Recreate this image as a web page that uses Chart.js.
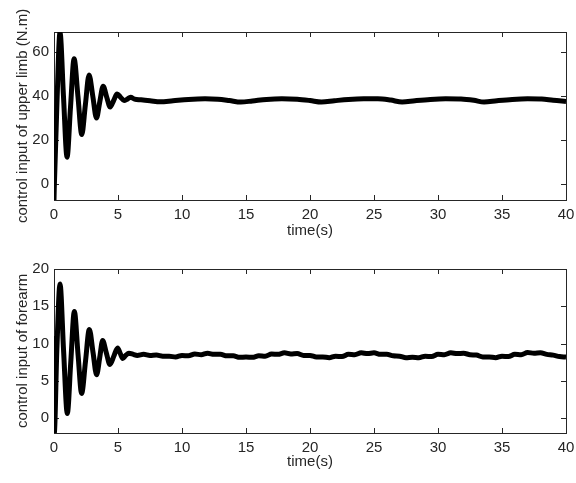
<!DOCTYPE html>
<html>
<head>
<meta charset="utf-8">
<script src="https://cdn.jsdelivr.net/npm/chart.js@4"></script>
<style>
  body { margin: 0; background: #fff; }
  canvas { position: absolute; left: 0; }
  #upperChart { top: 0; }
  #foreChart { top: 240px; }
</style>
</head>
<body>
<canvas id="upperChart" width="576" height="240"></canvas>
<canvas id="foreChart" width="576" height="243"></canvas>
<script>
// tick labels
const timeTicks = [0, 5, 10, 15, 20, 25, 30, 35, 40];
const upperTicks = [0, 20, 40, 60];
const foreTicks = [0, 5, 10, 15, 20];

// upper limb control input (N.m)
const timeUpper = [0, 0.02, 0.22, 0.47, 0.74, 1.02, 1.29, 1.57, 1.87, 2.17,
  2.45, 2.74, 3.03, 3.32, 3.58, 3.84, 4.12, 4.39, 4.66, 4.93,
  5.2, 5.47, 5.72, 5.98, 6.3, 6.8, 7.5, 8.3, 9.3, 10.5,
  11.8, 12.8, 13.7, 14.6, 15.5, 16.6, 17.8, 19.0, 20.0, 20.9,
  21.9, 23.0, 24.2, 25.3, 26.3, 27.2, 28.2, 29.4, 30.6, 31.8,
  32.8, 33.6, 34.6, 35.8, 37.0, 38.1, 39.0, 40];
const upperLimb = [-7.3, -2, 35, 69, 40, 12.2, 35, 57, 40, 22.5,
  36, 49.6, 40, 30, 37.5, 44.5, 39.5, 35, 38, 41,
  39.5, 38, 38.6, 39.5, 38.6, 38.3, 37.9, 37.4, 37.9, 38.5,
  38.8, 38.6, 38.0, 37.3, 37.8, 38.5, 38.8, 38.6, 38.0, 37.3,
  37.9, 38.5, 38.8, 38.8, 38.2, 37.3, 37.9, 38.5, 38.8, 38.7,
  38.1, 37.3, 37.9, 38.5, 38.8, 38.7, 38.1, 37.6];

// forearm control input
const timeFore = [0, 0.02, 0.22, 0.47, 0.75, 1.04, 1.31, 1.59, 1.88, 2.16,
  2.46, 2.76, 3.05, 3.33, 3.57, 3.8, 4.08, 4.37, 4.67, 4.97,
  5.17, 5.37, 5.6, 5.85, 6.2, 6.5, 7.0, 7.5, 8.0, 8.5,
  9.0, 9.5, 10.0, 10.5, 11.0, 11.5, 12.0, 12.5, 13.0, 13.5,
  14.0, 14.5, 15.0, 15.5, 16.0, 16.5, 17.0, 17.5, 18.0, 18.5,
  19.0, 19.5, 20.0, 20.5, 21.0, 21.5, 22.0, 22.5, 23.0, 23.5,
  24.0, 24.5, 25.0, 25.5, 26.0, 26.5, 27.0, 27.5, 28.0, 28.5,
  29.0, 29.5, 30.0, 30.5, 31.0, 31.5, 32.0, 32.5, 33.0, 33.5,
  34.0, 34.5, 35.0, 35.5, 36.0, 36.5, 37.0, 37.5, 38.0, 38.5,
  39.0, 39.5, 40.0];
const forearm = [11, -2, 9, 18, 9, 0.6, 7.5, 14.3, 8.5, 3.3,
  7.6, 11.9, 8.8, 5.8, 8.1, 10.4, 8.8, 7.2, 8.3, 9.4,
  8.7, 8.0, 8.4, 8.7, 8.55, 8.4, 8.55, 8.4, 8.45, 8.3,
  8.3, 8.2, 8.4, 8.35, 8.6, 8.5, 8.7, 8.55, 8.55, 8.35,
  8.35, 8.15, 8.2, 8.15, 8.35, 8.3, 8.6, 8.55, 8.75, 8.6,
  8.65, 8.4, 8.4, 8.2, 8.2, 8.1, 8.3, 8.25, 8.55, 8.5,
  8.75, 8.65, 8.75, 8.55, 8.55, 8.35, 8.3, 8.1, 8.15, 8.1,
  8.3, 8.25, 8.55, 8.5, 8.75, 8.65, 8.7, 8.5, 8.45, 8.2,
  8.2, 8.1, 8.3, 8.25, 8.55, 8.5, 8.8, 8.7, 8.75, 8.55,
  8.45, 8.25, 8.2];

Chart.defaults.font.family = '"Liberation Sans", Arial, sans-serif';
Chart.defaults.font.size = 15;
Chart.defaults.color = '#262626';

// axes box with inward ticks, MATLAB style
const boxTicks = {
  id: 'boxTicks',
  beforeDatasetsDraw(chart) {
    const { ctx, chartArea: a, scales: { x, y } } = chart;
    ctx.save();
    ctx.strokeStyle = '#262626';
    ctx.lineWidth = 1;
    ctx.strokeRect(Math.round(a.left) + 0.5, Math.round(a.top) + 0.5,
      Math.round(a.right - a.left), Math.round(a.bottom - a.top));
    ctx.beginPath();
    x.ticks.forEach(t => {
      const px = Math.round(x.getPixelForValue(t.value)) + 0.5;
      ctx.moveTo(px, a.bottom); ctx.lineTo(px, a.bottom - 5);
      ctx.moveTo(px, a.top); ctx.lineTo(px, a.top + 5);
    });
    y.ticks.forEach(t => {
      const py = Math.round(y.getPixelForValue(t.value)) + 0.5;
      ctx.moveTo(a.left, py); ctx.lineTo(a.left + 5, py);
      ctx.moveTo(a.right, py); ctx.lineTo(a.right - 5, py);
    });
    ctx.stroke();
    ctx.restore();
  }
};

function makeChart(id, times, values, yMin, yMax, yTicks, yTitle, padTop, xHeight, xTitlePad) {
  const ctx = document.getElementById(id).getContext('2d');
  return new Chart(ctx, {
    type: 'line',
    data: {
      datasets: [{
        data: times.map((t, i) => ({ x: t, y: values[i] })),
        borderColor: '#000',
        borderWidth: 5,
        pointRadius: 0,
        fill: false,
        cubicInterpolationMode: 'monotone'
      }]
    },
    options: {
      responsive: false,
      animation: false,
      layout: { padding: { top: padTop, right: 10, left: 0, bottom: 0 } },
      plugins: { legend: { display: false }, tooltip: { enabled: false } },
      scales: {
        x: {
          type: 'linear',
          min: 0,
          max: 40,
          afterBuildTicks: s => { s.ticks = timeTicks.map(v => ({ value: v })); },
          afterFit: s => { s.height = xHeight; s.paddingLeft = 0; s.paddingRight = 0; },
          grid: { display: false, drawTicks: false },
          border: { display: false },
          ticks: { padding: 6, maxRotation: 0 },
          title: { display: true, text: 'time(s)', padding: { top: 0, bottom: xTitlePad } }
        },
        y: {
          type: 'linear',
          min: yMin,
          max: yMax,
          afterBuildTicks: s => { s.ticks = yTicks.map(v => ({ value: v })); },
          afterFit: s => { s.width = 54; s.paddingTop = 0; s.paddingBottom = 0; },
          grid: { display: false, drawTicks: false },
          border: { display: false },
          ticks: { padding: 5 },
          title: { display: true, text: yTitle, padding: { top: 14, bottom: 0 } }
        }
      }
    },
    plugins: [boxTicks]
  });
}

makeChart('upperChart', timeUpper, upperLimb, -7.3, 69.2, upperTicks,
  'control input of upper limb (N.m)', 32, 40, 0);
makeChart('foreChart', timeFore, forearm, -2, 20, foreTicks,
  'control input of forearm', 29, 50, 12);
</script>
</body>
</html>
